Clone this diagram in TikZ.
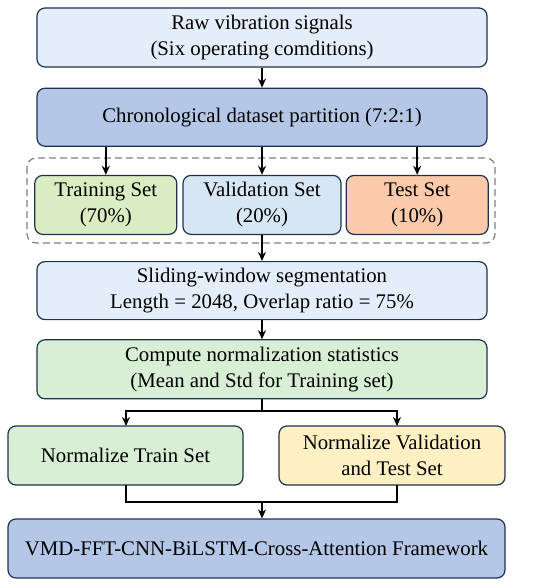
\documentclass[tikz,border=0pt]{standalone}
\usepackage{fontspec}
\setmainfont{Liberation Serif}
\usepackage{tikz}
\usetikzlibrary{arrows.meta, positioning}

\definecolor{edgeblue}{HTML}{1E3250}
\definecolor{paleblue}{HTML}{E3EEFA}
\definecolor{midblue}{HTML}{B4C7E7}
\definecolor{limegreen}{HTML}{DAEDC2}
\definecolor{skyblue}{HTML}{D6E6F5}
\definecolor{peach}{HTML}{FBCAAB}
\definecolor{mintgreen}{HTML}{D8EFD5}
\definecolor{cream}{HTML}{FEF0C3}

\begin{document}
\begin{tikzpicture}[x=1pt,y=-1pt,>={Stealth[length=9pt,width=8pt]},line width=1.6pt,
                    font=\fontsize{20.8}{26}\selectfont]
  \tikzstyle{box}=[draw=edgeblue,line width=1.2pt,rounded corners=8pt,
                   align=center,inner sep=0pt,minimum height=59pt]
  \tikzstyle{wide}=[box,minimum width=450pt]
  \tikzstyle{link}=[->,black]

  \useasboundingbox (0,0) rectangle (550,586);

  \node[wide,fill=paleblue] (raw) at (262,37.5)
       {Raw vibration signals\\(Six operating comditions)};
  \node[wide,fill=midblue,minimum height=58pt] (part) [below=20pt of raw]
       {Chronological dataset partition (7:2:1)};
  \node[box,fill=skyblue,minimum width=158pt] (val) [below=28pt of part]
       {Validation Set\\(20\%)};
  \node[box,fill=limegreen,minimum width=142pt] (train) [left=5pt of val]
       {Training Set\\(70\%)};
  \node[box,fill=peach,minimum width=142pt] (test) [right=4pt of val]
       {Test Set\\(10\%)};
  \node[wide,fill=paleblue,minimum height=58pt] (seg) [below=26pt of val]
       {Sliding-window segmentation\\Length = 2048, Overlap ratio = 75\%};
  \node[wide,fill=mintgreen] (stats) [below=19pt of seg]
       {Compute normalization statistics\\(Mean and Std for Training set)};
  \node[box,fill=mintgreen,minimum width=235pt] (ntrain) at (125.5,455.5)
       {Normalize Train Set};
  \node[box,fill=cream,minimum width=226pt] (nval) at (392,455.5)
       {Normalize Validation\\and Test Set};
  \node[box,fill=midblue,minimum width=497pt] (frame) at (256.5,548.5)
       {VMD-FFT-CNN-BiLSTM-Cross-Attention Framework};

  % dashed group round the three sets
  \draw[gray,line width=1.2pt,dash pattern=on 7pt off 4pt,rounded corners=9pt]
       (27,158) rectangle (495,243);

  \coordinate (split) at (262,411);
  \coordinate (merge) at (262,502);

  \draw[link] (raw) -- (part);
  \draw[link] (train.north |- part.south) -- (train);
  \draw[link] (part) -- (val);
  \draw[link] (test.north |- part.south) -- (test);
  \draw[link] (val) -- (seg);
  \draw[link] (seg) -- (stats);
  \draw (stats) -- (split);
  \draw[link] (split) -| (126,426);
  \draw[link] (split) -| (397,426);
  \draw (126,485) |- (merge) -| (397,485);
  \draw[link] (merge) -- (frame.north -| merge);
\end{tikzpicture}
\end{document}
